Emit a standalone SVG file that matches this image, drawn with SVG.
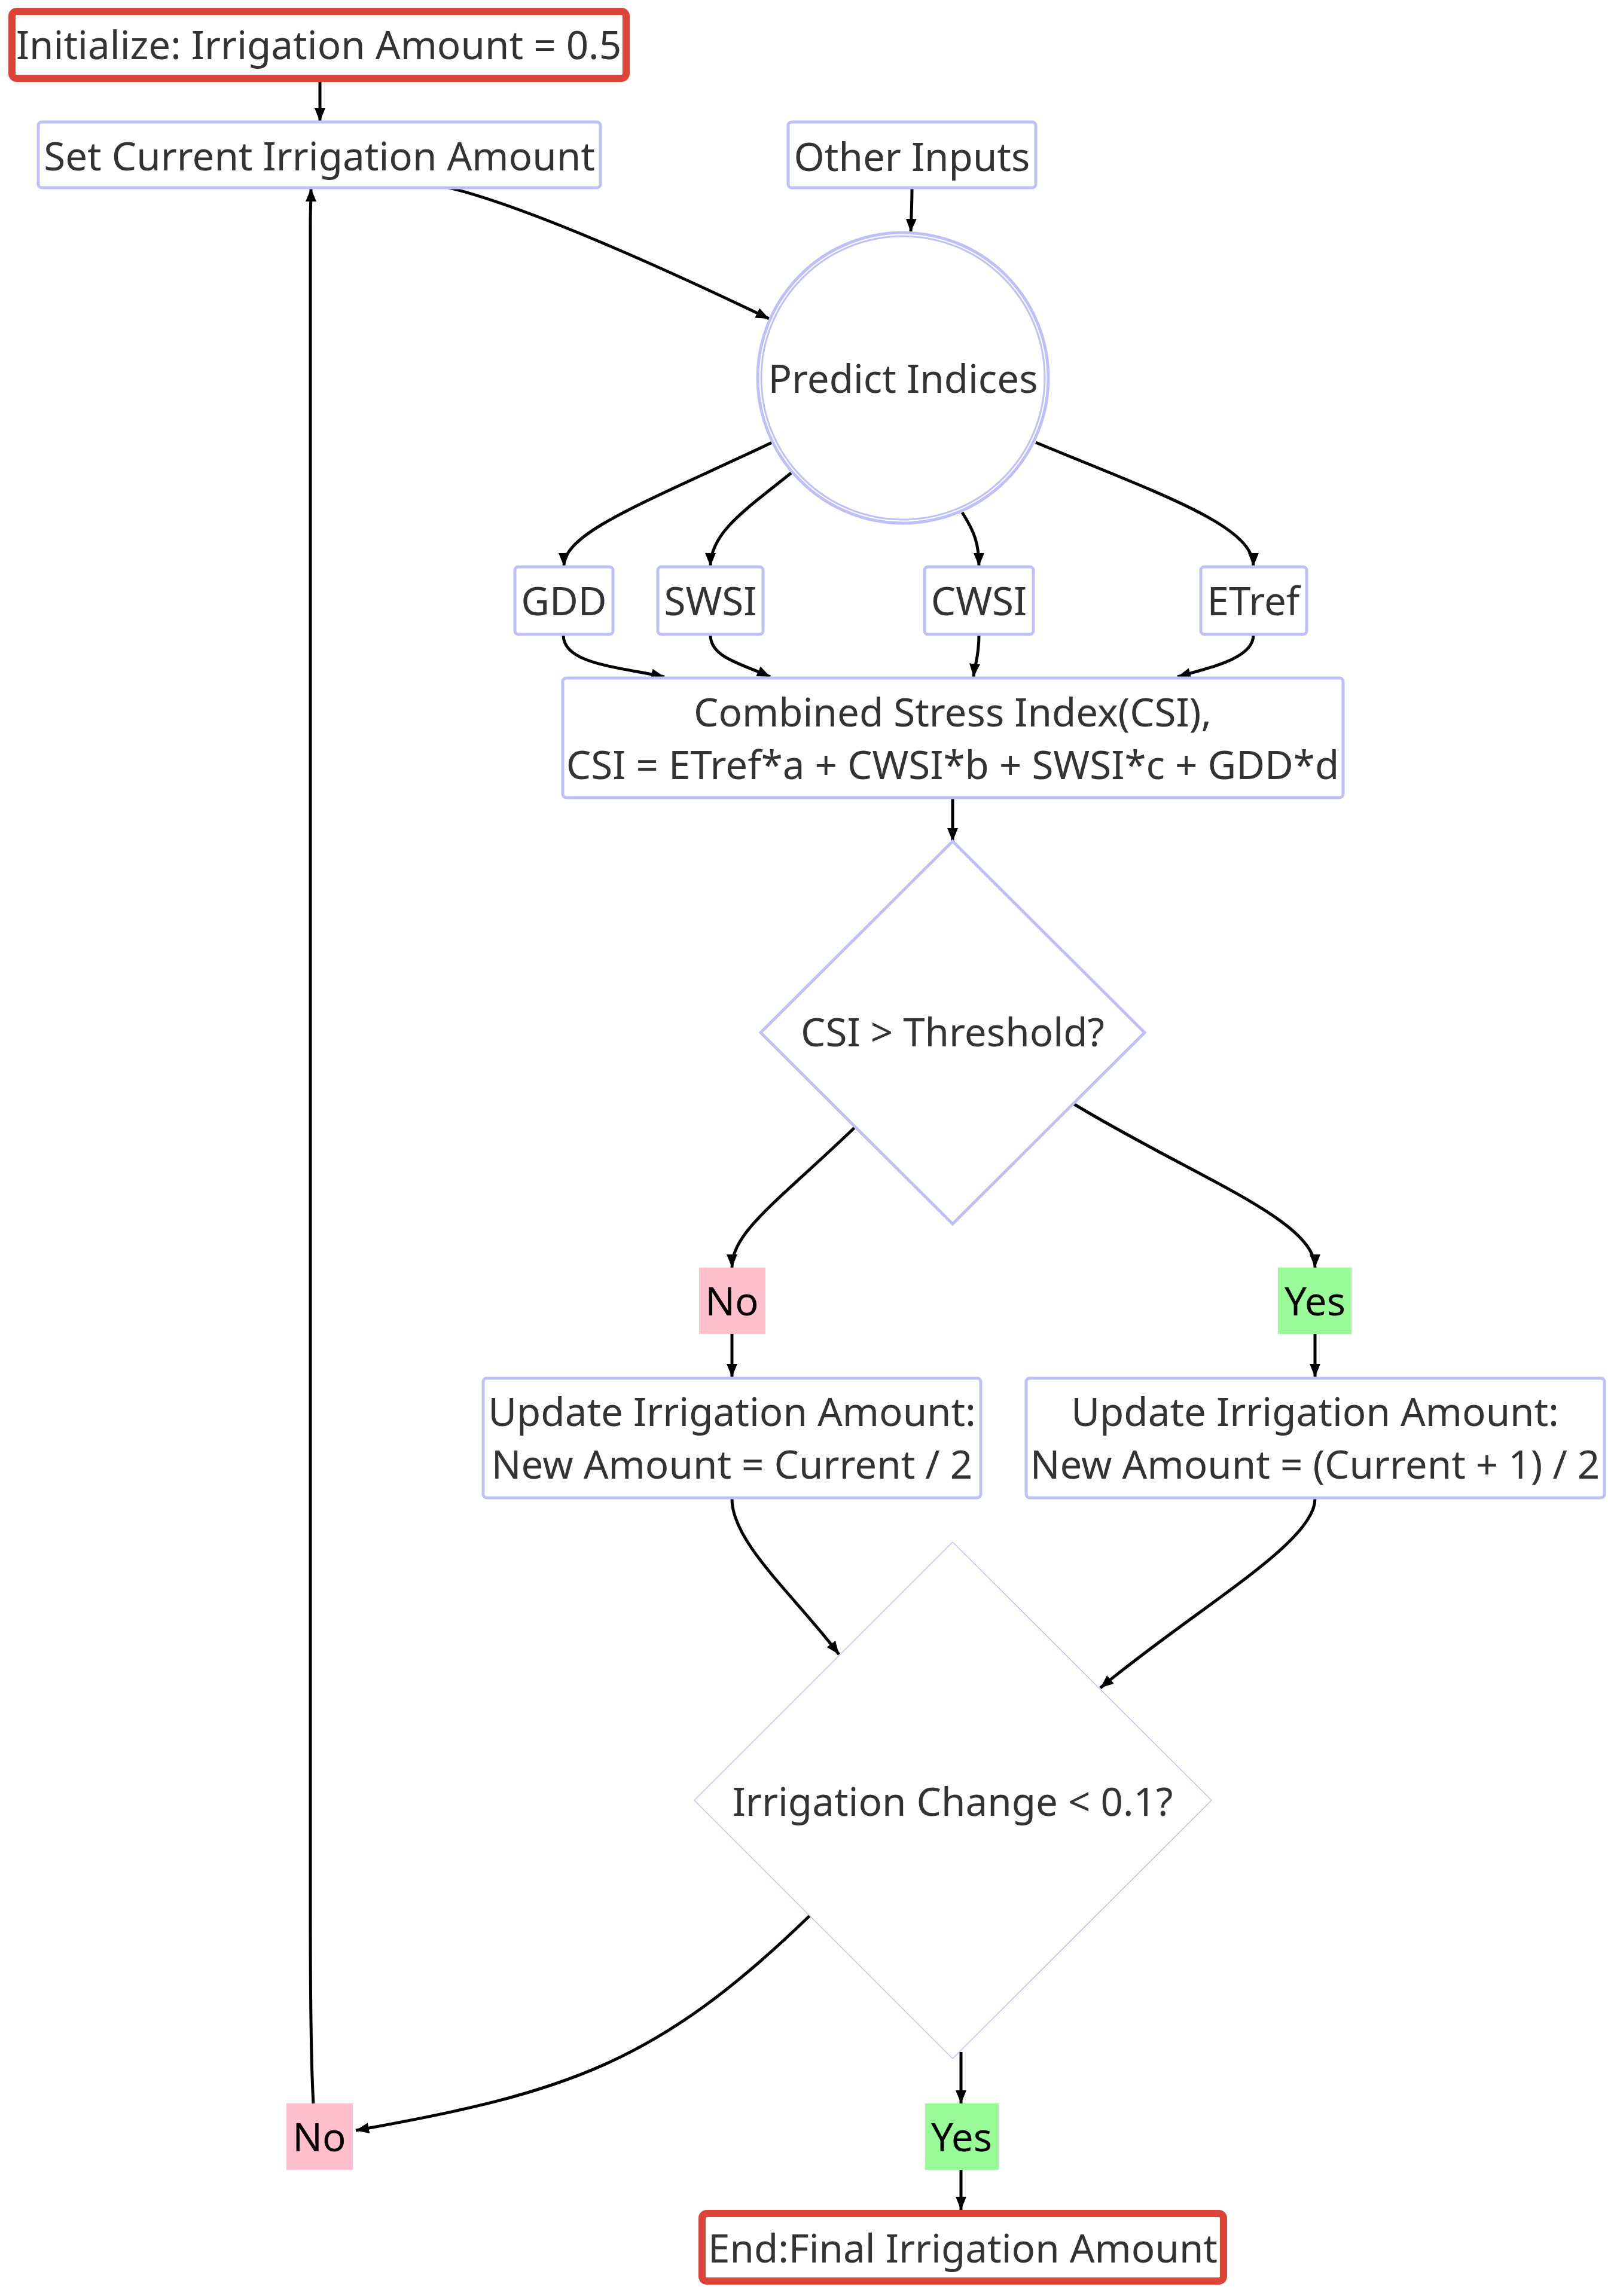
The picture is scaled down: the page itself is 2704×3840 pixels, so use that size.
<svg xmlns="http://www.w3.org/2000/svg" width="2704" height="3840" viewBox="0 0 2704 3840">
<defs>
<marker id="arr" markerUnits="userSpaceOnUse" markerWidth="24" markerHeight="20" refX="22" refY="9" orient="auto">
<path d="M0,0 L22,9 L0,18 z" fill="#000"/>
</marker>
<style>
.t{font-family:"Noto Sans","Open Sans","DejaVu Sans",sans-serif;font-size:65.5px;fill:#333;text-anchor:middle}
.lt{font-family:"Noto Sans","Open Sans","DejaVu Sans",sans-serif;font-size:65.5px;fill:#000;text-anchor:middle}
.box{fill:#fff;stroke:#BFBFF9;stroke-width:5}
.red{fill:#fff;stroke:#DB4437;stroke-width:12}
.e{fill:none;stroke:#000;stroke-width:5;marker-end:url(#arr)}
</style>
</defs>
<rect width="2704" height="3840" fill="#fff"/>
<g id="connectors">
<path class="e" d="M535,137 L535,203"/>
<path class="e" d="M747,313 C860,340 1050,420 1286,533"/>
<path class="e" d="M1525,316 C1525,340 1524,360 1523,388"/>
<path class="e" d="M1291,740 C1080,840 943,890 943,947"/>
<path class="e" d="M1323,791 C1250,850 1188,890 1188,947"/>
<path class="e" d="M1609,857 C1630,890 1637,910 1637,947"/>
<path class="e" d="M1732,740 C1950,830 2096,880 2096,947"/>
<path class="e" d="M942,1062 C942,1110 1030,1115 1111,1132"/>
<path class="e" d="M1188,1062 C1188,1100 1240,1110 1288,1132"/>
<path class="e" d="M1637,1062 C1637,1100 1630,1110 1628,1132"/>
<path class="e" d="M2096,1062 C2096,1100 2030,1115 1969,1132"/>
<path class="e" d="M1593,1335 L1593,1407"/>
<path class="e" d="M1431,1884 C1300,2010 1224,2060 1224,2120"/>
<path class="e" d="M1795,1846 C2000,1970 2199,2040 2199,2120"/>
<path class="e" d="M1224,2231 L1224,2303"/>
<path class="e" d="M2199,2231 L2199,2303"/>
<path class="e" d="M1224,2507 C1224,2580 1330,2670 1403,2767"/>
<path class="e" d="M2199,2507 C2199,2580 2000,2690 1840,2823"/>
<path class="e" d="M1354,3204 C1100,3450 950,3500 595,3563"/>
<path class="e" d="M524,3518 C520,3450 519,3350 519,3200 L519,380 C519,350 520,330 520,315"/>
<path class="e" d="M1607,3432 L1607,3518"/>
<path class="e" d="M1607,3629 L1607,3696"/>
</g>
<g id="init"><rect class="red" x="20" y="19" width="1027" height="112" rx="8"/><text class="t" x="533" y="99">Initialize: Irrigation Amount = 0.5</text></g>
<g id="setcurrent"><rect class="box" x="64" y="204" width="940" height="110" rx="6"/><text class="t" x="534" y="285">Set Current Irrigation Amount</text></g>
<g id="otherinputs"><rect class="box" x="1318" y="204" width="414" height="110" rx="6"/><text class="t" x="1525" y="286">Other Inputs</text></g>
<g id="predict"><circle cx="1510" cy="632" r="243" fill="#fff" stroke="#BFBFF9" stroke-width="5"/><circle cx="1510" cy="632" r="237" fill="none" stroke="#BFBFF9" stroke-width="3"/><text class="t" x="1510" y="657">Predict Indices</text></g>
<g id="gdd"><rect class="box" x="861" y="948" width="164" height="113" rx="6"/><text class="t" x="943" y="1029">GDD</text></g>
<g id="swsi"><rect class="box" x="1100" y="948" width="176" height="113" rx="6"/><text class="t" x="1188" y="1029">SWSI</text></g>
<g id="cwsi"><rect class="box" x="1546" y="948" width="182" height="113" rx="6"/><text class="t" x="1637" y="1029">CWSI</text></g>
<g id="etref"><rect class="box" x="2008" y="948" width="177" height="113" rx="6"/><text class="t" x="2096" y="1029">ETref</text></g>
<g id="csi"><rect class="box" x="941" y="1134" width="1305" height="200" rx="6"/><text class="t" x="1593" y="1215">Combined Stress Index(CSI),</text><text class="t" x="1593" y="1303">CSI = ETref*a + CWSI*b + SWSI*c + GDD*d</text></g>
<g id="threshold"><polygon class="box" points="1593,1407 1914,1727 1593,2047 1272,1727"/><text class="t" x="1593" y="1750">CSI &gt; Threshold?</text></g>
<g id="no1"><rect x="1169" y="2120" width="111" height="111" fill="#FFC0CB"/><text class="lt" x="1224" y="2200">No</text></g>
<g id="yes1"><rect x="2137" y="2120" width="123" height="111" fill="#98FB98"/><text class="lt" x="2199" y="2200">Yes</text></g>
<g id="updateleft"><rect class="box" x="808" y="2305" width="832" height="200" rx="6"/><text class="t" x="1224" y="2385">Update Irrigation Amount:</text><text class="t" x="1224" y="2473">New Amount = Current / 2</text></g>
<g id="updateright"><rect class="box" x="1716" y="2305" width="967" height="200" rx="6"/><text class="t" x="2199" y="2385">Update Irrigation Amount:</text><text class="t" x="2199" y="2473">New Amount = (Current + 1) / 2</text></g>
<g id="change"><polygon points="1593,2579 2026,3011 1593,3443 1161,3011" fill="#fff" stroke="#BFBFF9" stroke-width="1.5"/><text class="t" x="1593" y="3037">Irrigation Change &lt; 0.1?</text></g>
<g id="no2"><rect x="479" y="3518" width="111" height="111" fill="#FFC0CB"/><text class="lt" x="534" y="3598">No</text></g>
<g id="yes2"><rect x="1547" y="3518" width="123" height="111" fill="#98FB98"/><text class="lt" x="1608" y="3598">Yes</text></g>
<g id="end"><rect class="red" x="1174" y="3702" width="872" height="113" rx="8"/><text class="t" x="1610" y="3784">End:Final Irrigation Amount</text></g>
</svg>
